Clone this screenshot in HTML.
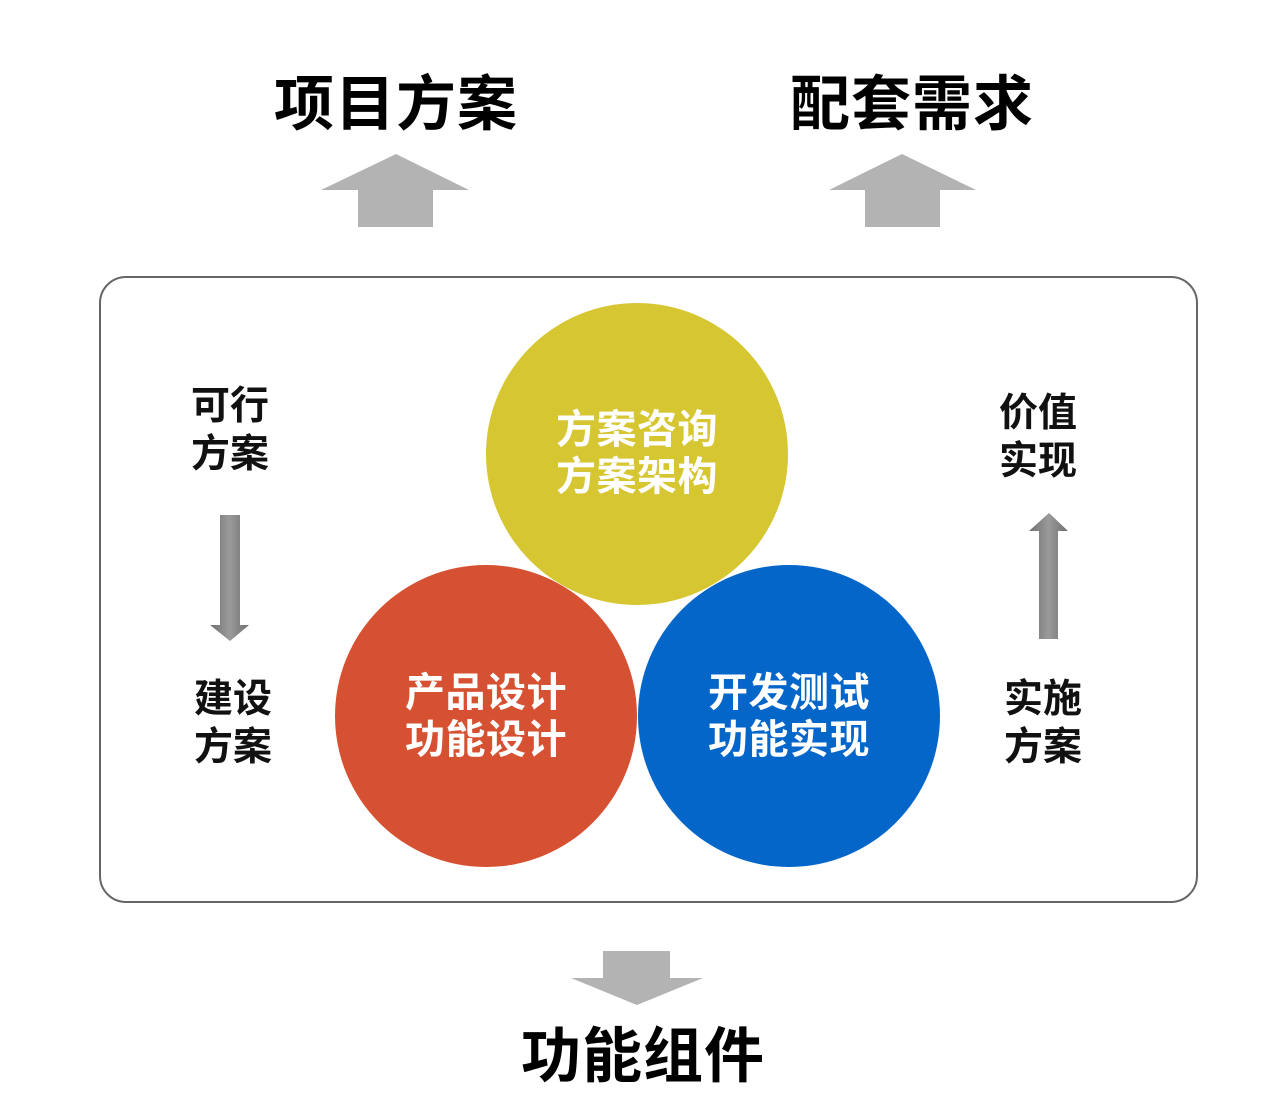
<!DOCTYPE html>
<html><head><meta charset="utf-8"><style>
body{margin:0;width:1265px;height:1117px;background:#fff;position:relative;overflow:hidden;font-family:"Liberation Sans","Noto Sans CJK SC",sans-serif;font-weight:bold}
.t{position:absolute;white-space:nowrap;text-align:center;line-height:1}
.big{font-size:60px;color:#000;letter-spacing:1px}
.side{font-size:39px;line-height:48px;color:#111}
.ct{font-size:40px;line-height:47px;color:#fff;letter-spacing:0.5px}
</style></head><body>
<svg width="1265" height="1117" style="position:absolute;left:0;top:0">
<defs><linearGradient id="g" x1="0" x2="1"><stop offset="0" stop-color="#6f6f6f"/><stop offset="0.5" stop-color="#9a9a9a"/><stop offset="1" stop-color="#6f6f6f"/></linearGradient></defs>
<polygon points="396,154 469,190 433,190 433,227 358,227 358,190 321,190" fill="#b3b3b3"/>
<polygon points="902,154 976,190 940,190 940,227 865,227 865,190 829,190" fill="#b3b3b3"/>
<rect x="100" y="277" width="1097" height="625" rx="26" fill="#fff" stroke="#666" stroke-width="2"/>
<circle cx="637" cy="454" r="151" fill="#d6c632"/>
<circle cx="486" cy="716" r="151" fill="#d65032"/>
<circle cx="789" cy="716" r="151" fill="#0466c9"/>
<polygon points="220,515 240,515 240,625 249,625 230,641 210,625 220,625" fill="url(#g)"/>
<polygon points="1049,513 1068,531 1058,531 1058,639 1039,639 1039,531 1029,531" fill="url(#g)"/>
<polygon points="603,951 670,951 670,978 703,978 637,1005 571,978 603,978" fill="#b3b3b3"/>
</svg>
<div class="t big" style="left:266px;top:75px;width:260px">项目方案</div>
<div class="t big" style="left:782px;top:75px;width:260px">配套需求</div>
<div class="t big" style="left:513px;top:1027px;width:260px">功能组件</div>
<div class="t side" style="left:185px;top:383px;width:90px">可行<br>方案</div>
<div class="t side" style="left:188px;top:676px;width:90px">建设<br>方案</div>
<div class="t side" style="left:993px;top:390px;width:90px">价值<br>实现</div>
<div class="t side" style="left:998px;top:676px;width:90px">实施<br>方案</div>
<div class="t ct" style="left:537px;top:407px;width:200px">方案咨询<br>方案架构</div>
<div class="t ct" style="left:386px;top:670px;width:200px">产品设计<br>功能设计</div>
<div class="t ct" style="left:689px;top:670px;width:200px">开发测试<br>功能实现</div>
</body></html>
